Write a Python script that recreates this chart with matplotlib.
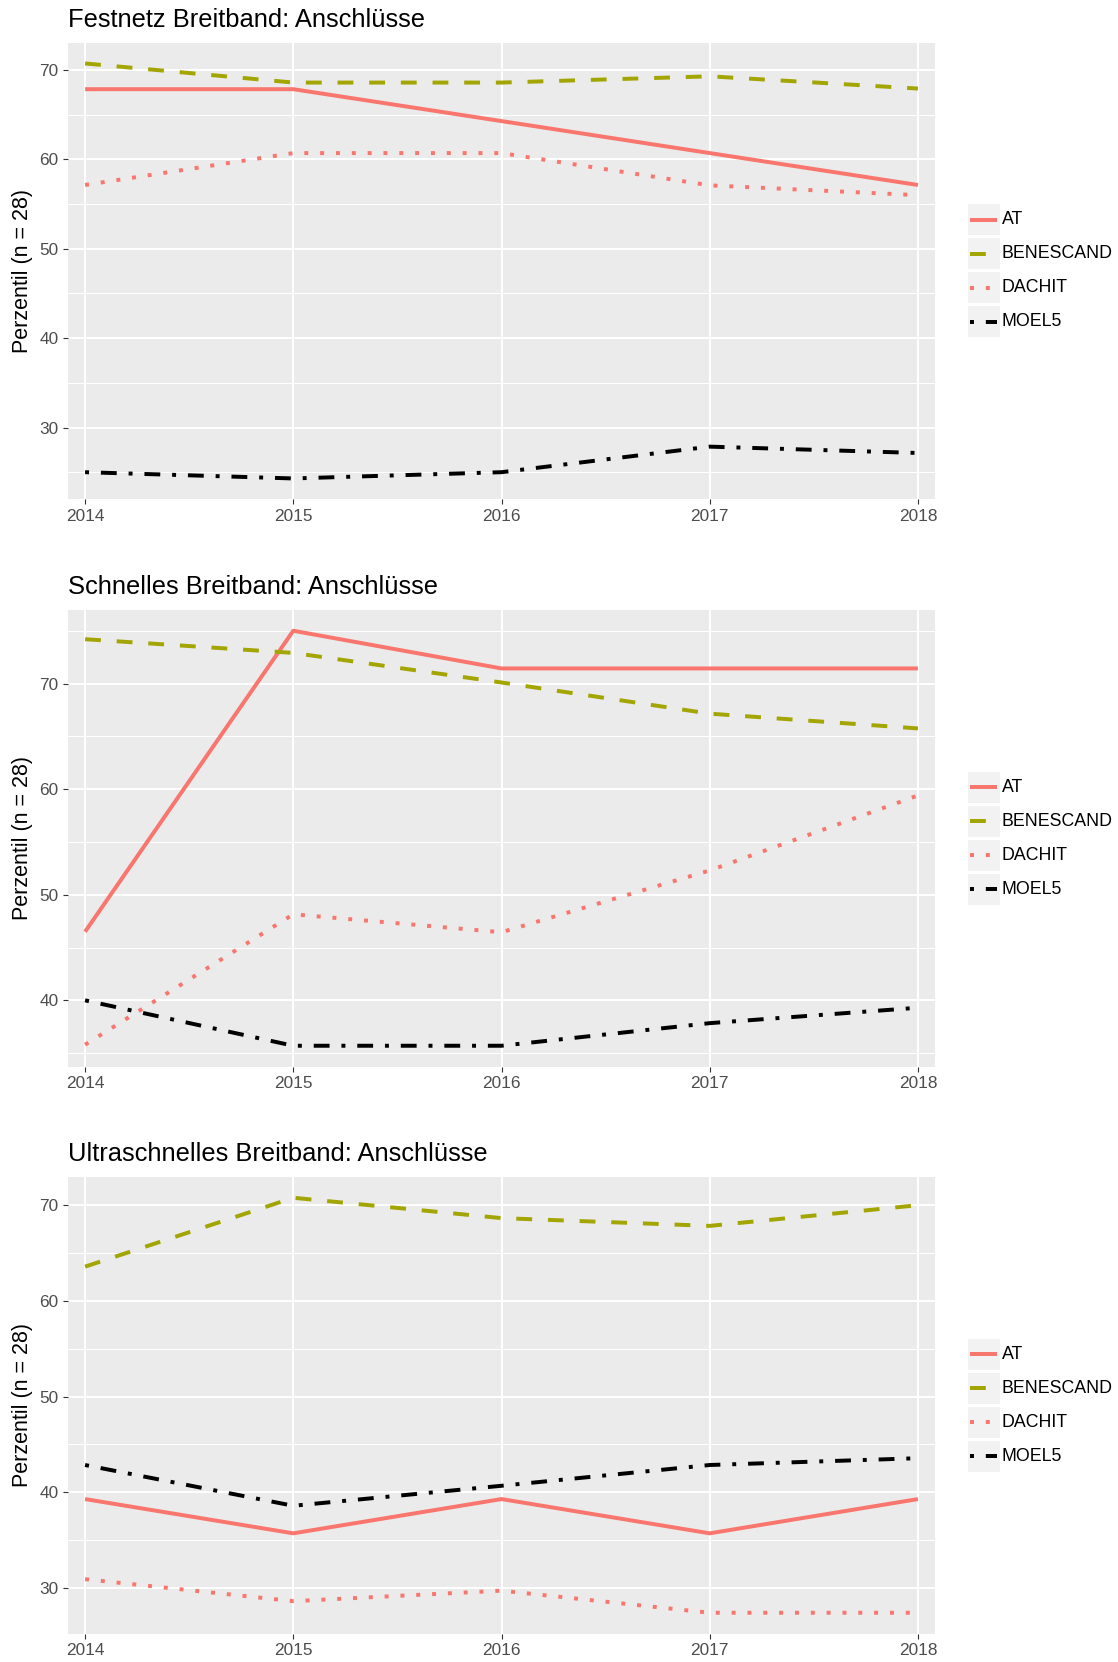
import matplotlib
matplotlib.use("Agg")
import matplotlib.pyplot as plt
from matplotlib.ticker import MultipleLocator, FixedLocator
from matplotlib.patches import Rectangle
from matplotlib.lines import Line2D

plt.rcParams['font.family'] = ['Liberation Sans', 'DejaVu Sans']

# ---------------- data ----------------
years = [2014, 2015, 2016, 2017, 2018]
series_names = ["AT", "BENESCAND", "DACHIT", "MOEL5"]
panel_titles = ["Festnetz Breitband: Anschlüsse",
                "Schnelles Breitband: Anschlüsse",
                "Ultraschnelles Breitband: Anschlüsse"]
y_label = "Perzentil (n = 28)"

festnetz_at = [67.86, 67.86, 64.29, 60.71, 57.14]
festnetz_benescand = [70.74, 68.6, 68.6, 69.3, 67.93]
festnetz_dachit = [57.14, 60.71, 60.71, 57.1, 56.0]
festnetz_moel5 = [25.0, 24.3, 25.0, 27.86, 27.15]

schnell_at = [46.5, 75.0, 71.43, 71.43, 71.43]
schnell_benescand = [74.2, 72.9, 70.1, 67.15, 65.75]
schnell_dachit = [35.8, 48.15, 46.45, 52.3, 59.4]
schnell_moel5 = [40.0, 35.7, 35.7, 37.84, 39.3]

ultra_at = [39.29, 35.71, 39.29, 35.71, 39.29]
ultra_benescand = [63.58, 70.78, 68.65, 67.84, 70.0]
ultra_dachit = [30.92, 28.62, 29.72, 27.41, 27.41]
ultra_moel5 = [42.85, 38.59, 40.68, 42.85, 43.56]

panels = [
    [festnetz_at, festnetz_benescand, festnetz_dachit, festnetz_moel5],
    [schnell_at, schnell_benescand, schnell_dachit, schnell_moel5],
    [ultra_at, ultra_benescand, ultra_dachit, ultra_moel5],
]

# ---------------- style ----------------
colors = ["#F8766D", "#A3A500", "#F8766D", "#000000"]
dashes = [None, (4, 4), (1, 3), (1, 3, 4, 3)]
LW = 2.85

W, H = 1118, 1662
fig = plt.figure(figsize=(W / 100, H / 100), dpi=100)
fig.patch.set_facecolor("white")

ax_left, ax_w, ax_h = 68, 867, 456.5
tops = [42.7, 610, 1177]


def style_line(line, d):
    line.set_solid_capstyle("butt")
    line.set_dash_capstyle("butt")
    line.set_solid_joinstyle("round")
    line.set_dash_joinstyle("round")
    if d is not None:
        line.set_dashes(d)


axes = []
for p, top in enumerate(tops):
    ax = fig.add_axes([ax_left / W, 1 - (top + ax_h) / H, ax_w / W, ax_h / H])
    axes.append(ax)
    ax.set_facecolor("#EBEBEB")
    for s, vals in enumerate(panels[p]):
        ln, = ax.plot(years, vals, color=colors[s], lw=LW, label=series_names[s], zorder=3)
        style_line(ln, dashes[s])
    ax.margins(y=0.05)
    ax.set_xlim(2014 - 0.082, 2018 + 0.082)
    ax.xaxis.set_major_locator(FixedLocator(years))
    ax.set_xticklabels([str(y) for y in years])
    ax.yaxis.set_major_locator(MultipleLocator(10))
    ax.yaxis.set_minor_locator(MultipleLocator(5))
    ax.grid(which="major", color="white", lw=1.45, zorder=1)
    ax.grid(which="minor", axis="y", color="white", lw=0.75, zorder=1)
    ax.set_axisbelow(True)
    for sp in ax.spines.values():
        sp.set_visible(False)
    ax.tick_params(which="major", length=3.5, width=0.8, color="#333333",
                   labelcolor="#4D4D4D", labelsize=12.4, pad=3.3)
    ax.tick_params(which="minor", length=0)
    ax.set_title(panel_titles[p], loc="left", pad=11.5, fontsize=18.4, color="black")
    ax.set_ylabel(y_label, fontsize=15.5, color="black")
    ax.yaxis.set_label_coords((22.7 - ax_left) / ax_w, 0.5)
    ax.yaxis.label.set_verticalalignment("center")

# ---------------- legends (drawn on an overlay in pixel coords) ----------------
ov = fig.add_axes([0, 0, 1, 1], zorder=10)
ov.set_xlim(0, W)
ov.set_ylim(H, 0)
ov.axis("off")
ov.patch.set_alpha(0)

key_x0, key_w, key_h, key_step = 968, 32, 31, 34
for top in tops:
    cy = top + ax_h / 2
    y0 = cy - (key_step * 3 + key_h) / 2
    for s, name in enumerate(series_names):
        ky = y0 + s * key_step
        ov.add_patch(Rectangle((key_x0, ky), key_w, key_h, facecolor="#F2F2F2",
                               edgecolor="none"))
        ln = Line2D([key_x0 + 2, key_x0 + 29], [ky + key_h / 2, ky + key_h / 2],
                    color=colors[s], lw=LW)
        style_line(ln, dashes[s])
        ov.add_line(ln)
        ov.text(key_x0 + key_w + 1.5, ky + key_h / 2, name, fontsize=12.8,
                color="black", ha="left", va="center")

fig.savefig("out.png", dpi=100)
